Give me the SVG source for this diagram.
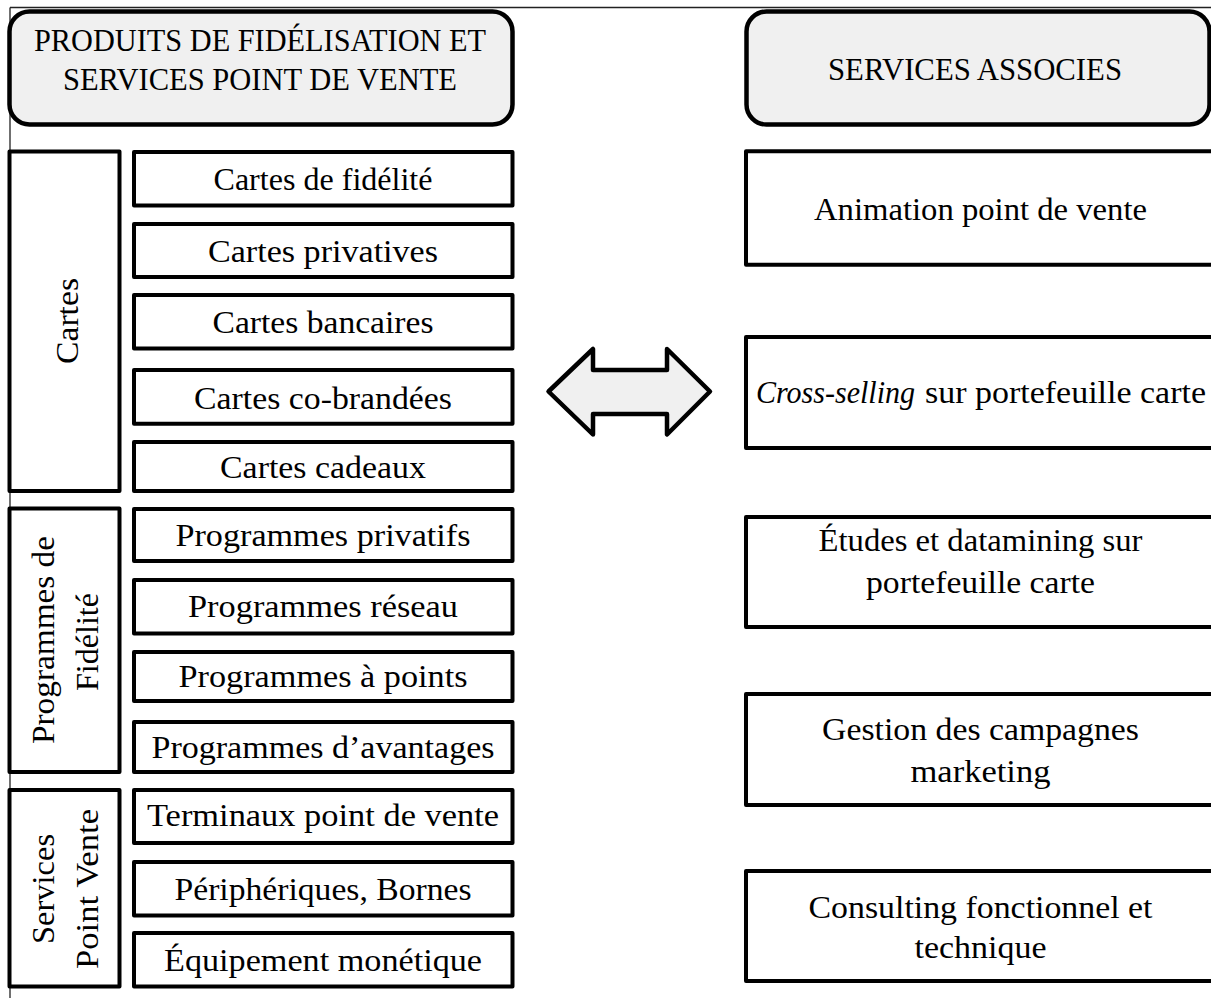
<svg xmlns="http://www.w3.org/2000/svg" width="1211" height="998" viewBox="0 0 1211 998">
  <style>
    .frame { fill: none; stroke: #222; stroke-width: 1.3; }
    .hdr { fill: #f0f0f0; stroke: #000; stroke-width: 4.5; }
    .box { fill: #fff; stroke: #000; stroke-width: 4; stroke-linejoin: round; }
    .arrow { fill: #f0f0f0; stroke: #000; stroke-width: 4.5; stroke-linejoin: round; }
    .t { font-family: "Liberation Serif", "Times New Roman", serif; fill: #000; text-anchor: middle; }
    .ts { font-family: "Liberation Serif", "Times New Roman", serif; fill: #000; text-anchor: start; }
    .s28 { font-size: 31px; }
    .s30 { font-size: 32px; }
    .it { font-style: italic; }
  </style>

  <!-- page frame -->
  <g id="frame">
    <line class="frame" x1="10" y1="7.5" x2="1211" y2="7.5"/>
    <line class="frame" x1="10" y1="7.5" x2="10" y2="998"/>
  </g>

  <!-- column headers -->
  <g id="header-produits">
    <rect class="hdr" x="9.5" y="11.5" width="503" height="113" rx="20"/>
    <text class="t s28" x="260" y="51" textLength="452" lengthAdjust="spacingAndGlyphs">PRODUITS DE FIDÉLISATION ET</text>
    <text class="t s28" x="260" y="90" textLength="394" lengthAdjust="spacingAndGlyphs">SERVICES POINT DE VENTE</text>
  </g>
  <g id="header-services">
    <rect class="hdr" x="746.5" y="11.5" width="463" height="113" rx="20"/>
    <text class="t s28" x="975" y="80" textLength="294" lengthAdjust="spacingAndGlyphs">SERVICES ASSOCIES</text>
  </g>

  <!-- left: category bands -->
  <g id="cat-cartes">
    <rect class="box" x="9.5" y="151.5" width="110" height="339.5"/>
    <text class="t s30" transform="translate(78,321) rotate(-90)" textLength="86" lengthAdjust="spacingAndGlyphs">Cartes</text>
  </g>
  <g id="cat-programmes">
    <rect class="box" x="9.5" y="508.5" width="110" height="263.5"/>
    <text class="t s30" transform="translate(54,640) rotate(-90)" textLength="208" lengthAdjust="spacingAndGlyphs">Programmes de</text>
    <text class="t s30" transform="translate(98,642) rotate(-90)" textLength="98" lengthAdjust="spacingAndGlyphs">Fidélité</text>
  </g>
  <g id="cat-services-pv">
    <rect class="box" x="9.5" y="790" width="110" height="196.5"/>
    <text class="t s30" transform="translate(54,889) rotate(-90)" textLength="110" lengthAdjust="spacingAndGlyphs">Services</text>
    <text class="t s30" transform="translate(98,889) rotate(-90)" textLength="160" lengthAdjust="spacingAndGlyphs">Point Vente</text>
  </g>

  <!-- left: product items -->
  <g id="item-cartes-fidelite">
    <rect class="box" x="134" y="152" width="378.5" height="53.6"/>
    <text class="t s30" x="323" y="190" textLength="219" lengthAdjust="spacingAndGlyphs">Cartes de fidélité</text>
  </g>
  <g id="item-cartes-privatives">
    <rect class="box" x="134" y="224" width="378.5" height="53"/>
    <text class="t s30" x="323" y="261.5" textLength="230" lengthAdjust="spacingAndGlyphs">Cartes privatives</text>
  </g>
  <g id="item-cartes-bancaires">
    <rect class="box" x="134" y="295" width="378.5" height="53.6"/>
    <text class="t s30" x="323" y="333" textLength="221" lengthAdjust="spacingAndGlyphs">Cartes bancaires</text>
  </g>
  <g id="item-cartes-cobrandees">
    <rect class="box" x="134" y="370" width="378.5" height="53.7"/>
    <text class="t s30" x="323" y="408.5" textLength="258" lengthAdjust="spacingAndGlyphs">Cartes co-brandées</text>
  </g>
  <g id="item-cartes-cadeaux">
    <rect class="box" x="134" y="442" width="378.5" height="49"/>
    <text class="t s30" x="323" y="478" textLength="206" lengthAdjust="spacingAndGlyphs">Cartes cadeaux</text>
  </g>
  <g id="item-prog-privatifs">
    <rect class="box" x="134" y="509" width="378.5" height="52"/>
    <text class="t s30" x="323" y="546" textLength="295" lengthAdjust="spacingAndGlyphs">Programmes privatifs</text>
  </g>
  <g id="item-prog-reseau">
    <rect class="box" x="134" y="580" width="378.5" height="53.6"/>
    <text class="t s30" x="323" y="617" textLength="270" lengthAdjust="spacingAndGlyphs">Programmes réseau</text>
  </g>
  <g id="item-prog-points">
    <rect class="box" x="134" y="652" width="378.5" height="49"/>
    <text class="t s30" x="323" y="687" textLength="289" lengthAdjust="spacingAndGlyphs">Programmes à points</text>
  </g>
  <g id="item-prog-avantages">
    <rect class="box" x="134" y="722" width="378.5" height="50"/>
    <text class="t s30" x="323" y="758" textLength="343" lengthAdjust="spacingAndGlyphs">Programmes d’avantages</text>
  </g>
  <g id="item-terminaux">
    <rect class="box" x="134" y="790" width="378.5" height="53"/>
    <text class="t s30" x="323" y="826" textLength="352" lengthAdjust="spacingAndGlyphs">Terminaux point de vente</text>
  </g>
  <g id="item-peripheriques">
    <rect class="box" x="134" y="862" width="378.5" height="53.5"/>
    <text class="t s30" x="323" y="900" textLength="297" lengthAdjust="spacingAndGlyphs">Périphériques, Bornes</text>
  </g>
  <g id="item-equipement">
    <rect class="box" x="134" y="933" width="378.5" height="53.5"/>
    <text class="t s30" x="323" y="971" textLength="318" lengthAdjust="spacingAndGlyphs">Équipement monétique</text>
  </g>

  <!-- two-way link between the columns -->
  <g id="connectors">
    <polygon class="arrow" points="548.5,391.5 593,349 593,370 667,370 667,349 710,391.5 667,434.5 667,414 593,414 593,434.5"/>
  </g>

  <!-- right: associated services -->
  <g id="svc-animation">
    <rect class="box" x="746" y="151.3" width="470" height="113.4"/>
    <text class="t s28" x="980.5" y="220" textLength="333" lengthAdjust="spacingAndGlyphs">Animation point de vente</text>
  </g>
  <g id="svc-cross-selling">
    <rect class="box" x="746" y="337" width="470" height="111"/>
    <text class="ts s28 it" x="756" y="403" textLength="159" lengthAdjust="spacingAndGlyphs">Cross-selling</text>
    <text class="ts s28" x="925" y="403" textLength="281" lengthAdjust="spacingAndGlyphs">sur portefeuille carte</text>
  </g>
  <g id="svc-etudes">
    <rect class="box" x="746" y="517" width="470" height="110"/>
    <text class="t s28" x="980.5" y="551" textLength="324" lengthAdjust="spacingAndGlyphs">Études et datamining sur</text>
    <text class="t s28" x="980.5" y="593" textLength="229" lengthAdjust="spacingAndGlyphs">portefeuille carte</text>
  </g>
  <g id="svc-campagnes">
    <rect class="box" x="746" y="694" width="470" height="111"/>
    <text class="t s28" x="980.5" y="740" textLength="317" lengthAdjust="spacingAndGlyphs">Gestion des campagnes</text>
    <text class="t s28" x="980.5" y="782" textLength="140" lengthAdjust="spacingAndGlyphs">marketing</text>
  </g>
  <g id="svc-consulting">
    <rect class="box" x="746" y="871" width="470" height="110"/>
    <text class="t s28" x="980.5" y="918" textLength="344" lengthAdjust="spacingAndGlyphs">Consulting fonctionnel et</text>
    <text class="t s28" x="980.5" y="958" textLength="132" lengthAdjust="spacingAndGlyphs">technique</text>
  </g>
</svg>
